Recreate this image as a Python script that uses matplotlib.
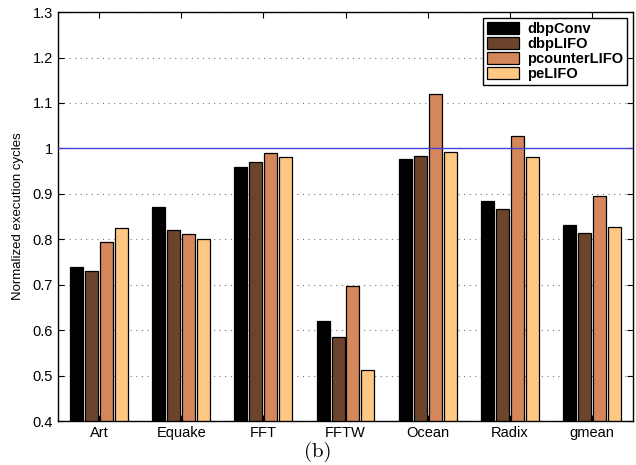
import numpy as np
import matplotlib
matplotlib.use("Agg")
import matplotlib.pyplot as plt

benchmarks = ["Art", "Equake", "FFT", "FFTW", "Ocean", "Radix", "gmean"]
series = ["dbpConv", "dbpLIFO", "pcounterLIFO", "peLIFO"]
dbpConv = [0.738, 0.870, 0.960, 0.620, 0.977, 0.885, 0.831]
dbpLIFO = [0.730, 0.820, 0.970, 0.585, 0.983, 0.866, 0.813]
pcounterLIFO = [0.795, 0.812, 0.990, 0.698, 1.120, 1.027, 0.895]
peLIFO = [0.824, 0.800, 0.980, 0.513, 0.993, 0.980, 0.828]
colors = ["#000000", "#6b442b", "#d4875a", "#ffc882"]
yticks = [0.4, 0.5, 0.6, 0.7, 0.8, 0.9, 1, 1.1, 1.2, 1.3]

plt.rcParams['font.family'] = ['Liberation Sans', 'DejaVu Sans']

fig = plt.figure(figsize=(6.36, 4.65), dpi=100)
ax = fig.add_axes([0.0912, 0.0946, 0.9041, 0.8794])

x = np.arange(1, len(benchmarks) + 1)
pitch = 0.182
width = 0.158
for i, (name, vals) in enumerate(zip(series, [dbpConv, dbpLIFO, pcounterLIFO, peLIFO])):
    ax.bar(x + (i - 1.5) * pitch, vals, width, bottom=0, color=colors[i],
           edgecolor='black', linewidth=0.9, label=name, zorder=2)

# reference line at 1
ax.axhline(1.0, color='#4444dd', linewidth=1.0, zorder=3)

ax.set_xlim(0.5, 7.5)
ax.set_ylim(0.4, 1.3)
ax.set_yticks(yticks)
ax.set_yticklabels([f"{t:g}" for t in yticks])
ax.set_xticks(x)
ax.set_xticklabels(benchmarks)
ax.yaxis.grid(True, linestyle=(0, (1, 4)), color='#777777', linewidth=0.8, zorder=0)
ax.set_axisbelow(True)
ax.tick_params(direction='in', top=True, right=True, length=4, labelsize=10.5, width=0.8)
for s in ax.spines.values():
    s.set_linewidth(1.0)
ax.set_ylabel("Normalized execution cycles", fontsize=9.5, labelpad=6)

leg = ax.legend(loc='upper right', frameon=True, fancybox=False, framealpha=1,
                edgecolor='black', prop={'weight': 'bold', 'size': 10.5},
                handlelength=2.2, handleheight=0.9, borderpad=0.25,
                labelspacing=0.08, handletextpad=0.6, borderaxespad=0.4)
leg.get_frame().set_linewidth(1.0)

fig.text(0.5, 0.028, "(b)", ha='center', va='center', fontsize=15, family='cmr10')

fig.savefig("out.png", dpi=100)
